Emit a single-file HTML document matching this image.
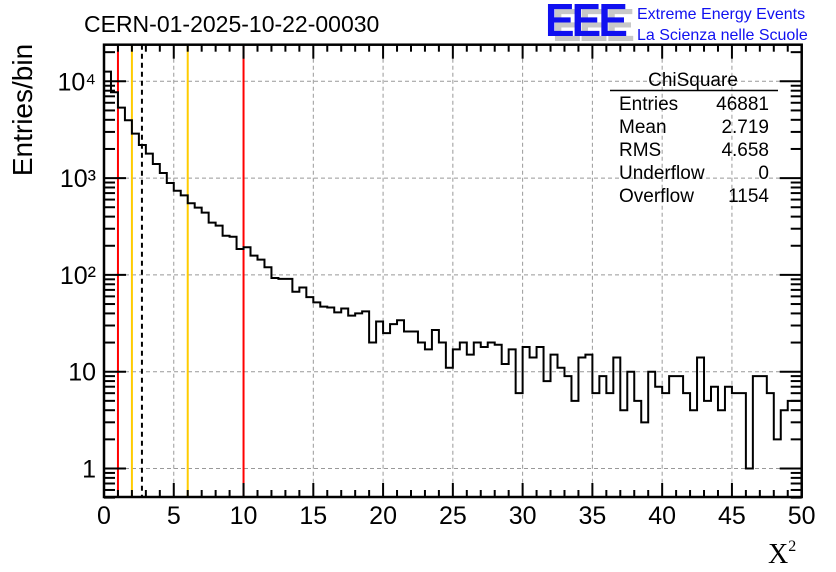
<!DOCTYPE html>
<html><head><meta charset="utf-8"><style>
body{margin:0;background:#fff;}
svg{display:block;font-family:"Liberation Sans",sans-serif;}
</style></head><body>
<svg id="chart" width="836" height="572" viewBox="0 0 836 572">
<g id="grid"></g>
<g id="lines"></g>
<path id="hist" fill="none" stroke="#000" stroke-width="2"/>
<g id="axes"></g>
<text x="84" y="32" font-size="23">CERN-01-2025-10-22-00030</text>
<g>
<text x="552" y="41" font-size="46" font-weight="bold" fill="#c8c8c8" letter-spacing="-3" textLength="80" lengthAdjust="spacingAndGlyphs">EEE</text>
<text x="545" y="36" font-size="46" font-weight="bold" fill="#1010f0" letter-spacing="-3" textLength="80" lengthAdjust="spacingAndGlyphs">EEE</text>
<text x="637" y="19" font-size="16" fill="#1010f0">Extreme Energy Events</text>
<text x="637" y="40" font-size="16" fill="#1010f0">La Scienza nelle Scuole</text>
</g>
<g font-size="19">
<text x="693" y="86" text-anchor="middle">ChiSquare</text>
<line x1="610" y1="90.5" x2="778" y2="90.5" stroke="#000" stroke-width="1.5"/>
<text x="619" y="110">Entries</text><text x="769" y="110" text-anchor="end">46881</text>
<text x="619" y="133">Mean</text><text x="769" y="133" text-anchor="end">2.719</text>
<text x="619" y="156">RMS</text><text x="769" y="156" text-anchor="end">4.658</text>
<text x="619" y="179">Underflow</text><text x="769" y="179" text-anchor="end">0</text>
<text x="619" y="202">Overflow</text><text x="769" y="202" text-anchor="end">1154</text>
</g>
<text transform="translate(32,110) rotate(-90)" text-anchor="middle" font-size="28">Entries/bin</text>
<text x="768" y="563" font-size="28" font-family="Liberation Serif,serif">X<tspan font-size="16" dy="-12">2</tspan></text>
</svg>
<script>
const binCounts=[12580,7700,5350,3955,2880,2200,1790,1400,1130,890,741,664,549,495,440,347,323,254,248,185,193,158,144,120,93,91,91,67,74,59,52,47,46,41,45,38,40,42,20,33,25,31,34,26,26,20,17,27,20,11,17,20,15,20,18,20,19,12,17,6,18,14,18,8,15,11,9,5,14,15,6,9,6,14,4,10,5,3,10,7,6,9,9,6,4,14,5,7,4,7,6,6,1,9,9,6,2,4,5,5];
const binWidth=0.5;
const xTicks=[0,5,10,15,20,25,30,35,40,45,50];
const yTicks=[1,10,100,1000,10000];
const yTickLabels=["1","10","10²","10³","10⁴"];
const redLines=[1,10];
const yellowLines=[2,6];
const meanLine=2.719;
const NS="http://www.w3.org/2000/svg";
const X0=104,X1=801.7,YT=44.7,YB=497;
function sx(v){return X0+(v-0)/50*(X1-X0);}
function sy(v){return 81.3+(4-Math.log10(v))*96.8;}
function mk(tag,attrs,parent){const e=document.createElementNS(NS,tag);for(const k in attrs)e.setAttribute(k,attrs[k]);parent.appendChild(e);return e;}
const grid=document.getElementById('grid'),axes=document.getElementById('axes'),lines=document.getElementById('lines');
xTicks.forEach(t=>{if(t>0&&t<50){const l=mk('line',{x1:sx(t),x2:sx(t),y1:YT,y2:YB,stroke:'#999','stroke-dasharray':'4,3','stroke-width':1},grid);

}});
yTicks.forEach(t=>{const l=mk('line',{x1:X0,x2:X1,y1:sy(t),y2:sy(t),stroke:'#999','stroke-dasharray':'4,3','stroke-width':1},grid);

});
function vline(v,color,dash,name){const l=mk('line',{x1:sx(v),x2:sx(v),y1:YT,y2:YB,stroke:color,'stroke-width':2},lines);if(dash)l.setAttribute('stroke-dasharray',dash);

}
redLines.forEach(v=>vline(v,'#ff0000',null,'red-cut-line'));
yellowLines.forEach(v=>vline(v,'#ffcc00',null,'yellow-cut-line'));
vline(meanLine,'#000','5,4','mean-line');
let d='M'+sx(0)+','+YB;
binCounts.forEach((c,i)=>{const y=c>0?Math.min(sy(c),YB):YB;d+=' L'+sx(i*binWidth)+','+y+' L'+sx((i+1)*binWidth)+','+y;});
d+=' L'+sx(binCounts.length*binWidth)+','+YB;
document.getElementById('hist').setAttribute('d',d);
mk('rect',{x:X0,y:YT,width:X1-X0,height:YB-YT,fill:'none',stroke:'#000','stroke-width':2.5},axes);
for(let v=0;v<=50;v+=1){const L=v%5===0?14:7;
mk('line',{x1:sx(v),x2:sx(v),y1:YB,y2:YB-L,stroke:'#000','stroke-width':2},axes);
mk('line',{x1:sx(v),x2:sx(v),y1:YT,y2:YT+L,stroke:'#000','stroke-width':2},axes);}
xTicks.forEach(t=>{const tx=mk('text',{x:sx(t),y:524,'text-anchor':'middle','font-size':25},axes);tx.textContent=t;

});
for(let e=-1;e<=4;e++){for(let m=1;m<=9;m++){const v=m*Math.pow(10,e);if(v<0.5||v>24000)continue;const L=m===1?22:11;
mk('line',{x1:X0,x2:X0+L,y1:sy(v),y2:sy(v),stroke:'#000','stroke-width':2},axes);
mk('line',{x1:X1,x2:X1-L,y1:sy(v),y2:sy(v),stroke:'#000','stroke-width':2},axes);}}
yTicks.forEach((t,i)=>{const tx=mk('text',{x:96,y:sy(t)+9,'text-anchor':'end','font-size':25},axes);tx.textContent=yTickLabels[i];

});
</script>
</body></html>
